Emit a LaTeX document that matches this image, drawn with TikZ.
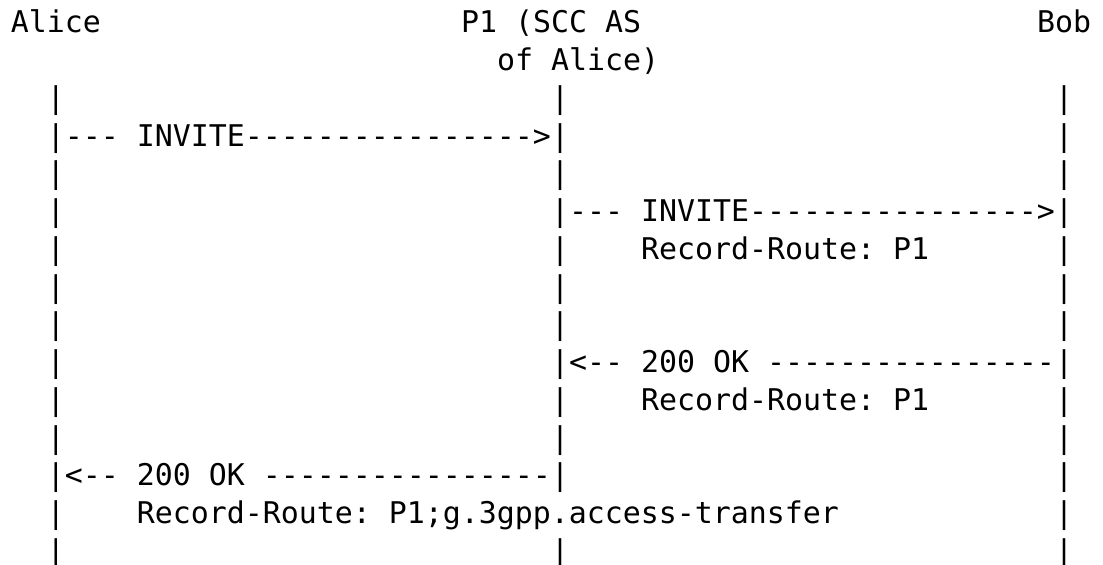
\documentclass[tikz,border=0pt]{standalone}
\usepackage{fontspec}
\setmonofont{DejaVu Sans Mono}
\usepackage{tikz}

\begin{document}
\begin{tikzpicture}[
  x=9pt, y=-18.875pt,
  every node/.style={font=\ttfamily\fontsize{14.95pt}{18pt}\selectfont,
                     inner sep=0pt, outer sep=0pt, anchor=base west},
  head/.style={},
  life/.style={},
  msg/.style={},
  hdr/.style={}]

\useasboundingbox (-5.5pt,16.5pt) rectangle (546pt,-266pt);

% participants
\node[head] (alice) at (0,0) {Alice};
\node[head] (pone)  at (25,0) {P1 (SCC AS};
\node[head] (poneb) at (27,1) {of Alice)};
\node[head] (bob)   at (57,0) {Bob};

% lifelines (P1's is broken by the last header line)
\foreach \r in {2,...,14}
  \foreach \c/\n in {2/a,58/b}
    \node[life] (\n\r) at (\c,\r) {|};
\foreach \r in {2,...,12,14}
  \node[life] (p\r) at (30,\r) {|};

% messages
\node[msg] (invitea) at (3,3)  {--- INVITE---------------->};
\node[msg] (inviteb) at (31,5) {--- INVITE---------------->};
\node[hdr] (rrb)     at (35,6) {Record-Route: P1};
\node[msg] (okb)     at (31,9) {<-- 200 OK ----------------};
\node[hdr] (rrc)     at (35,10) {Record-Route: P1};
\node[msg] (oka)     at (3,12) {<-- 200 OK ----------------};
\node[hdr] (rra)     at (7,13) {Record-Route: P1;g.3gpp.access-transfer};
\end{tikzpicture}
\end{document}
